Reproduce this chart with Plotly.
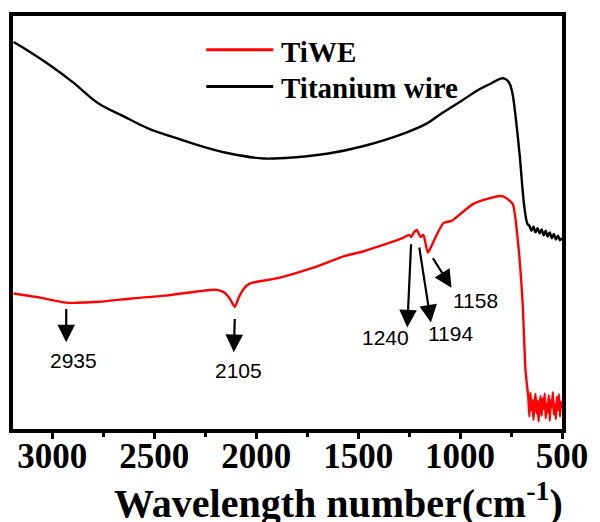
import plotly.graph_objects as go

# Titanium wire spectrum (wavenumber in cm-1, relative transmittance a.u.)
wire_x = [3190, 3100, 3015, 2900, 2773, 2650, 2531, 2371, 2250, 2130, 1965, 1806,
          1646, 1482, 1274, 1162, 1100, 998, 901, 850, 805, 785, 766, 755, 742,
          725, 708, 684, 669,
          660, 650, 640, 630, 620, 610, 600, 590, 580, 570, 560, 550, 540, 530,
          520, 510, 502]
wire_y = [93.7, 91.0, 88.2, 84.0, 78.8, 75.7, 72.8, 70.1, 68.2, 66.7, 65.5, 65.8,
          66.7, 68.4, 71.6, 74.0, 76.1, 79.3, 82.4, 83.6, 84.8, 84.9, 84.3, 83.4, 81.0,
          74.5, 66.5, 53.5, 49.6,
          49.2, 48.0, 49.0, 47.6, 48.6, 47.4, 48.3, 46.9, 48.0, 46.6, 47.6, 46.2,
          47.2, 45.9, 46.8, 45.7, 46.3]

# TiWE spectrum
tiwe_x = [3190, 3060, 2932, 2773, 2613, 2449, 2290, 2193, 2155, 2130, 2105, 2086,
          2060, 2033, 1888, 1724, 1564, 1467, 1419, 1322, 1280, 1250, 1240, 1225,
          1212, 1194, 1180, 1158, 1140, 1110, 1080, 1042, 1000, 935, 853, 800, 780,
          742, 718, 693, 679, 669,
          665, 660, 655, 650, 645, 640, 635, 630, 625, 620, 615, 610, 605, 600,
          595, 590, 585, 580, 575, 570, 565, 560, 555, 550, 545, 540, 535, 530,
          525, 520, 515, 510, 505, 502]
tiwe_y = [32.8, 31.8, 30.6, 30.8, 31.6, 32.3, 33.3, 33.7, 33.0, 31.6, 29.6, 31.8,
          34.0, 35.2, 36.6, 39.0, 41.9, 43.1, 43.9, 45.5, 46.3, 47.0, 46.5, 47.7,
          48.2, 46.5, 47.0, 42.7, 44.3, 47.5, 49.9, 50.4, 52.0, 54.5, 55.9, 56.4, 56.1,
          54.5, 46.3, 30.4, 14.2, 9.4,
          7.5, 3.0, 8.8, 4.5, 7.0, 2.2, 6.5, 8.5, 3.8, 6.9, 1.8, 5.6, 8.0, 3.2,
          7.4, 4.9, 8.6, 2.6, 6.2, 4.0, 8.2, 2.0, 7.0, 5.2, 8.9, 3.5, 6.0, 2.4,
          7.8, 4.6, 8.4, 3.0, 6.6, 5.0]

# Band assignments: label, arrow tail (x, y), arrow tip (x, y), label position (x, y)
band_labels = ["2935", "2105", "1240", "1194", "1158"]
band_tail = [(2932, 29.4), (2105, 27.0), (1240, 45.1), (1201, 44.3), (1138, 41.7)]
band_tip = [(2932, 21.0), (2110, 18.6), (1259, 24.6), (1143, 25.8), (1042, 34.2)]
band_text = [(2898, 16.6), (2086, 14.2), (1368, 22.2), (1046, 23.1), (925, 31.1)]

legend_names = ["TiWE", "Titanium wire"]
legend_colors = ["#ff0000", "#000000"]

serif = "Liberation Serif"
sans = "Liberation Sans"

fig = go.Figure()
fig.add_trace(go.Scatter(x=wire_x, y=wire_y, mode="lines", name="Titanium wire",
                         line=dict(color="#000000", width=2.4, shape="spline",
                                   smoothing=1.0),
                         showlegend=False))
fig.add_trace(go.Scatter(x=tiwe_x, y=tiwe_y, mode="lines", name="TiWE",
                         line=dict(color="#ff0000", width=2.4, shape="spline",
                                   smoothing=0.6),
                         showlegend=False))

annotations = []
for lab, (tx, ty), (hx, hy), (lx, ly) in zip(band_labels, band_tail, band_tip, band_text):
    annotations.append(dict(x=hx, y=hy, ax=tx, ay=ty, xref="x", yref="y",
                            axref="x", ayref="y", text="", showarrow=True,
                            arrowhead=2, arrowsize=1.6, arrowwidth=2.2,
                            arrowcolor="#000000"))
    annotations.append(dict(x=lx, y=ly, xref="x", yref="y", text=lab,
                            showarrow=False,
                            font=dict(family=sans, size=21, color="#000000")))

# Legend drawn inside the frame
shapes = []
legend_y = [0.918, 0.829]
for name, col, ly in zip(legend_names, legend_colors, legend_y):
    shapes.append(dict(type="line", xref="paper", yref="paper",
                       x0=0.352, x1=0.474, y0=ly, y1=ly,
                       line=dict(color=col, width=3)))
    annotations.append(dict(x=0.485, y=ly - 0.004, xref="paper", yref="paper",
                            text="<b>" + name + "</b>", showarrow=False,
                            xanchor="left", yanchor="middle",
                            font=dict(family=serif, size=29, color="#000000")))

# Axis title
annotations.append(dict(x=0.593, y=-0.174, xref="paper", yref="paper",
                        text="<b>Wavelength number(cm<sup>-1</sup>)</b>",
                        showarrow=False, xanchor="center", yanchor="middle",
                        font=dict(family=serif, size=40, color="#000000")))

fig.update_layout(
    width=600, height=522,
    margin=dict(l=13, r=30, t=14, b=93),
    paper_bgcolor="white", plot_bgcolor="white",
    font=dict(family=serif),
    annotations=annotations, shapes=shapes,
    xaxis=dict(range=[3193, 500], tick0=500, dtick=500, showgrid=False,
               zeroline=False, showline=True, linecolor="#000000", linewidth=4,
               mirror=True, ticks="outside", ticklen=6, tickwidth=3,
               tickcolor="#000000", ticklabelstandoff=-13,
               minor=dict(ticks="outside", ticklen=4, tickwidth=3,
                          tickcolor="#000000", dtick=250, tick0=500),
               tickprefix="<b>", ticksuffix="</b>",
               tickfont=dict(family=serif, size=35, color="#000000")),
    yaxis=dict(range=[0, 100], showgrid=False, zeroline=False, showline=True,
               linecolor="#000000", linewidth=4, mirror=True,
               showticklabels=False, ticks=""),
)

fig.write_html("out.html")
